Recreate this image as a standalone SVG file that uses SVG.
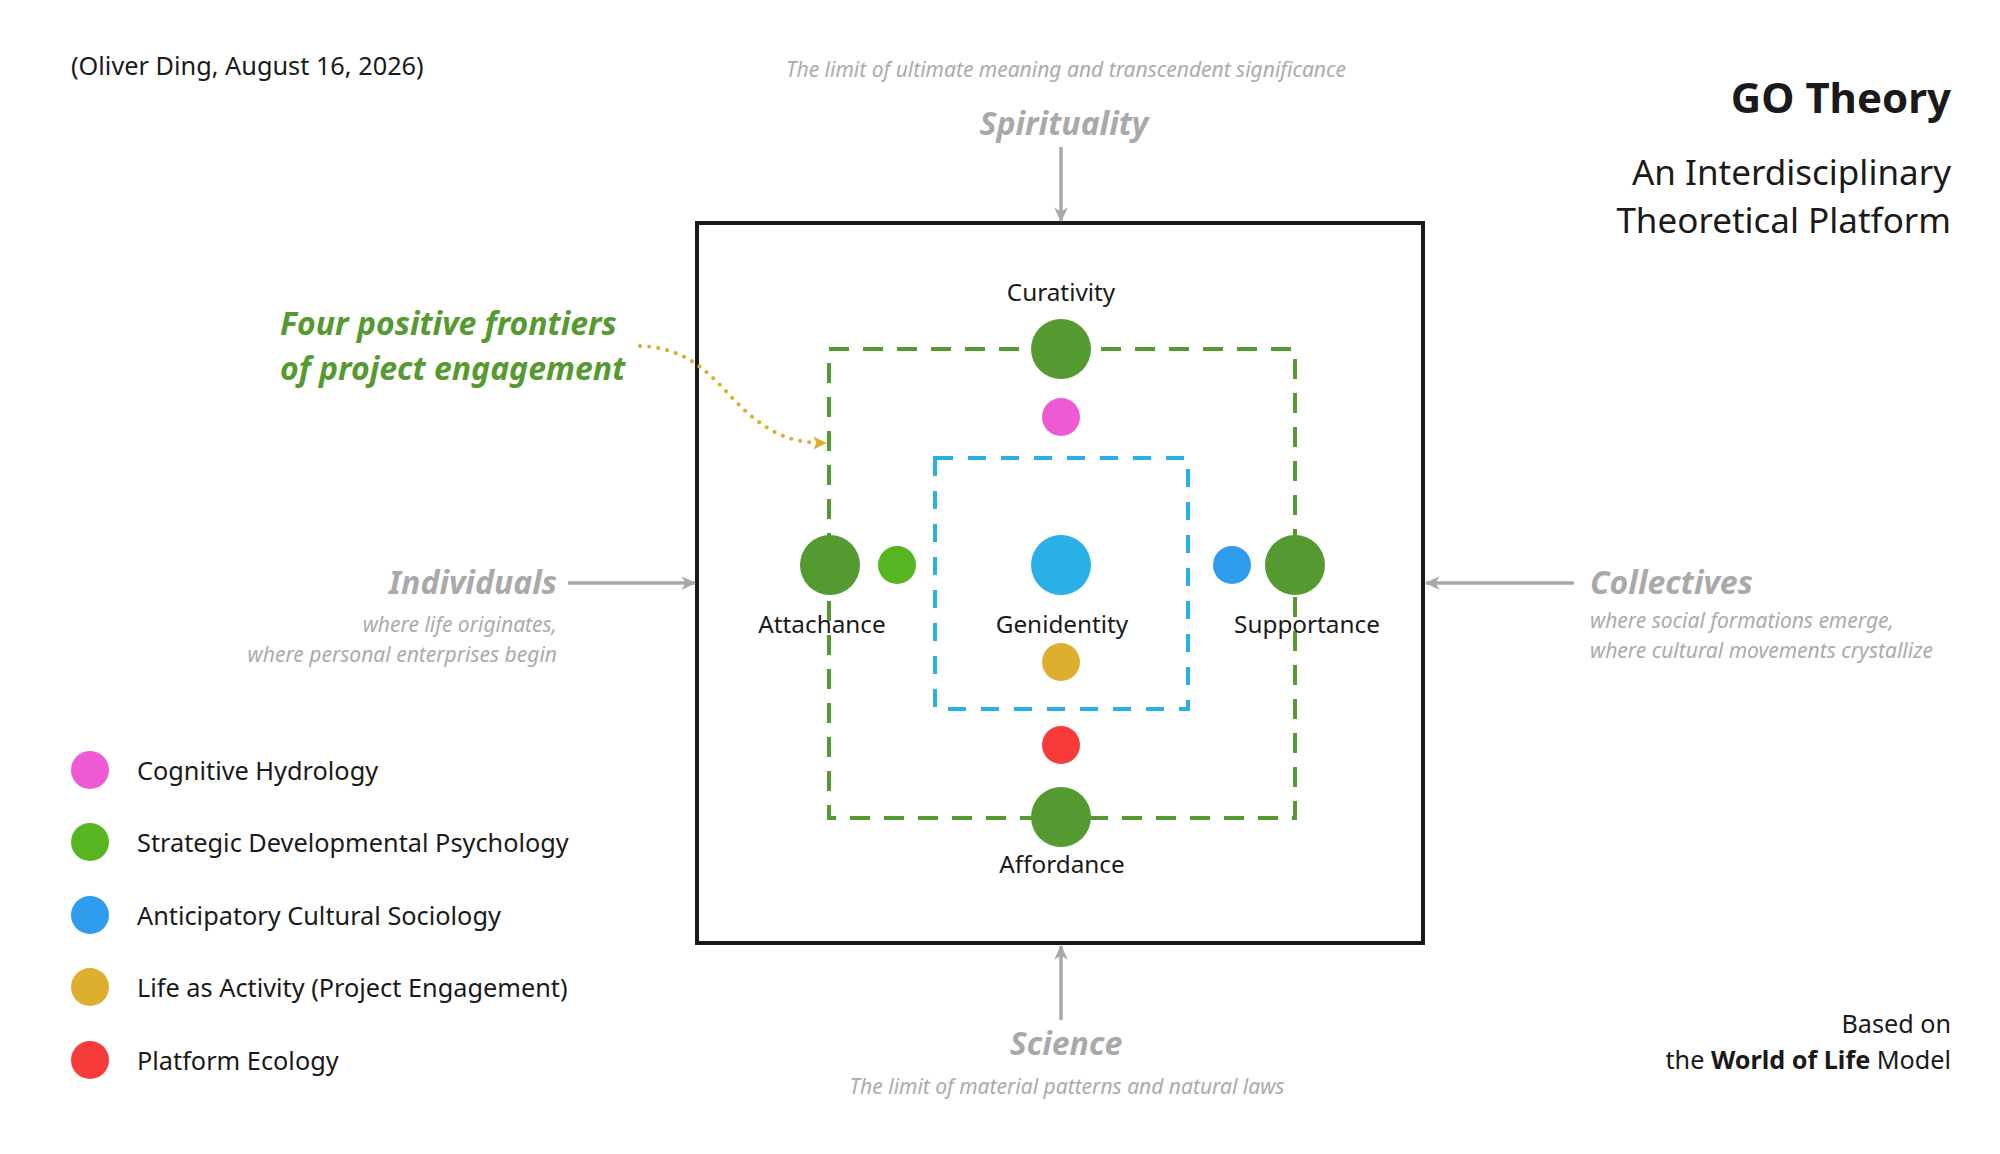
<svg xmlns="http://www.w3.org/2000/svg" width="2000" height="1154" viewBox="0 0 2000 1154">
<defs>
<style>
text{font-family:"Noto Sans","Open Sans","Liberation Sans",sans-serif;}
.dark{fill:#1a1a1a;}
.lbl{font-size:24.3px;fill:#1a1a1a;text-anchor:middle;}
.leg{font-size:25.3px;fill:#1a1a1a;}
.gray-h{font-size:32px;font-weight:bold;font-style:italic;fill:#a9a9a9;}
.gray-s{font-size:21px;font-style:italic;fill:#ababab;}
.grayline{stroke:#a9a9a9;stroke-width:3.5;fill:none;}
.big{fill:#559a30;}
</style>
<marker id="ag" viewBox="0 0 12 12" markerWidth="15" markerHeight="15" refX="11" refY="6" orient="auto" markerUnits="userSpaceOnUse">
<path d="M0,0.5 L12,6 L0,11.5 L3.5,6 Z" fill="#a9a9a9"/>
</marker>
<marker id="ay" viewBox="0 0 12 12" markerWidth="14" markerHeight="14" refX="11" refY="6" orient="auto" markerUnits="userSpaceOnUse">
<path d="M0,0.5 L12,6 L0,11.5 L3,6 Z" fill="#dcb02e"/>
</marker>
</defs>
<rect width="2000" height="1154" fill="#ffffff"/>

<g id="header">
<text x="71" y="75" class="leg">(Oliver Ding, August 16, 2026)</text>
<text x="1951" y="113" font-size="42" font-weight="bold" text-anchor="end" class="dark">GO Theory</text>
<text x="1951" y="185" font-size="35" text-anchor="end" class="dark">An Interdisciplinary</text>
<text x="1951" y="233" font-size="35" text-anchor="end" class="dark">Theoretical Platform</text>
<text x="1951" y="1033" font-size="25.2" text-anchor="end" class="dark">Based on</text>
<text x="1951" y="1069" font-size="25.2" text-anchor="end" class="dark">the <tspan font-weight="bold">World of Life</tspan> Model</text>
</g>

<g id="frame">
<rect x="697" y="223" width="726" height="720" fill="none" stroke="#1a1a1a" stroke-width="4"/>
</g>

<g id="outer-frontier">
<rect x="829" y="349" width="466" height="469" fill="none" stroke="#559a30" stroke-width="4" stroke-dasharray="20 14"/>
</g>
<g id="inner-core">
<rect x="935" y="458" width="253" height="251" fill="none" stroke="#29b1e6" stroke-width="4" stroke-dasharray="18 15"/>
</g>

<g id="spirituality">
<text x="786" y="77" class="gray-s">The limit of ultimate meaning and transcendent significance</text>
<text x="1064" y="135" class="gray-h" text-anchor="middle">Spirituality</text>
</g>
<g id="science">
<text x="1066" y="1055" class="gray-h" text-anchor="middle">Science</text>
<text x="1067" y="1094" class="gray-s" text-anchor="middle">The limit of material patterns and natural laws</text>
</g>
<g id="individuals">
<text x="557" y="594" class="gray-h" text-anchor="end">Individuals</text>
<text x="557" y="632" class="gray-s" text-anchor="end">where life originates,</text>
<text x="557" y="662" class="gray-s" text-anchor="end">where personal enterprises begin</text>
</g>
<g id="collectives">
<text x="1590" y="594" class="gray-h">Collectives</text>
<text x="1590" y="628" class="gray-s">where social formations emerge,</text>
<text x="1590" y="658" class="gray-s">where cultural movements crystallize</text>
</g>
<g id="frontiers-note">
<text x="280" y="335" font-size="32" font-weight="bold" font-style="italic" fill="#559a30">Four positive frontiers</text>
<text x="280" y="380" font-size="32" font-weight="bold" font-style="italic" fill="#559a30">of project engagement</text>
</g>

<g id="connectors">
<line x1="1061" y1="147" x2="1061" y2="221" class="grayline" marker-end="url(#ag)"/>
<line x1="1061" y1="1020" x2="1061" y2="946" class="grayline" marker-end="url(#ag)"/>
<line x1="568" y1="583" x2="695" y2="583" class="grayline" marker-end="url(#ag)"/>
<line x1="1574" y1="583" x2="1426" y2="583" class="grayline" marker-end="url(#ag)"/>
<path d="M640,346 C700,348 720,390 750,415 C775,436 795,443 826,443" fill="none" stroke="#dcb02e" stroke-width="4" stroke-linecap="round" stroke-dasharray="0.1 9" marker-end="url(#ay)"/>
</g>

<g id="curativity">
<circle cx="1061" cy="349" r="30" class="big"/>
<text x="1061" y="301" class="lbl">Curativity</text>
</g>
<g id="cognitive-hydrology-dot"><circle cx="1061" cy="417" r="19" fill="#ee5ad4"/></g>
<g id="attachance">
<circle cx="830" cy="565" r="30" class="big"/>
<text x="822" y="633" class="lbl">Attachance</text>
</g>
<g id="sdp-dot"><circle cx="897" cy="565" r="19" fill="#56b520"/></g>
<g id="genidentity">
<circle cx="1061" cy="565" r="30" fill="#29b1e6"/>
<text x="1062" y="633" class="lbl">Genidentity</text>
</g>
<g id="acs-dot"><circle cx="1232" cy="565" r="19" fill="#2e9bef"/></g>
<g id="supportance">
<circle cx="1295" cy="565" r="30" class="big"/>
<text x="1307" y="633" class="lbl">Supportance</text>
</g>
<g id="laa-dot"><circle cx="1061" cy="662" r="19" fill="#dcb02e"/></g>
<g id="pe-dot"><circle cx="1061" cy="745" r="19" fill="#f73b3b"/></g>
<g id="affordance">
<circle cx="1061" cy="817" r="30" class="big"/>
<text x="1062" y="873" class="lbl">Affordance</text>
</g>

<g id="legend">
<circle cx="90" cy="770" r="19" fill="#ee5ad4"/>
<text x="137" y="780" class="leg">Cognitive Hydrology</text>
<circle cx="90" cy="842" r="19" fill="#56b520"/>
<text x="137" y="852" class="leg">Strategic Developmental Psychology</text>
<circle cx="90" cy="915" r="19" fill="#2e9bef"/>
<text x="137" y="925" class="leg">Anticipatory Cultural Sociology</text>
<circle cx="90" cy="987" r="19" fill="#dcb02e"/>
<text x="137" y="997" class="leg">Life as Activity (Project Engagement)</text>
<circle cx="90" cy="1060" r="19" fill="#f73b3b"/>
<text x="137" y="1070" class="leg">Platform Ecology</text>
</g>
</svg>
